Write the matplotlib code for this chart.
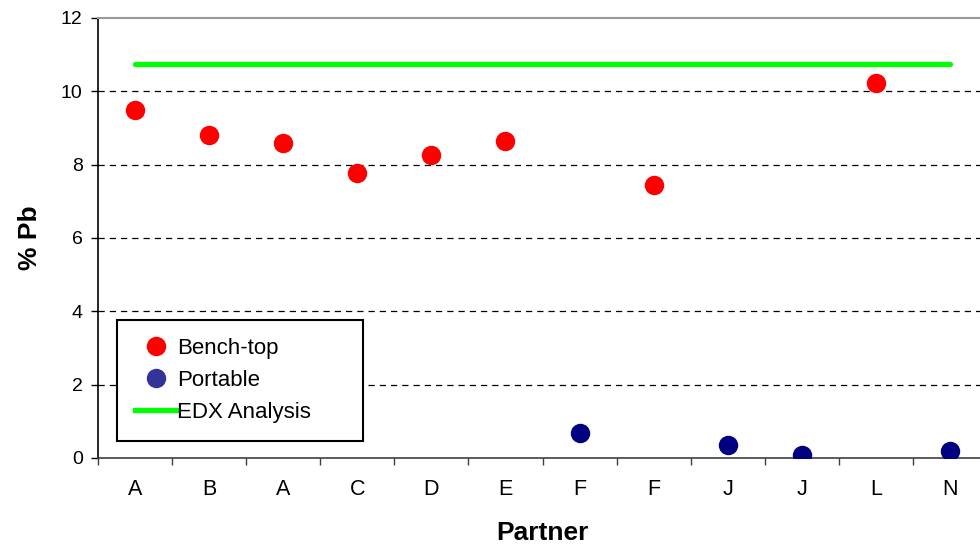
import numpy as np
import matplotlib
matplotlib.use("Agg")
import matplotlib.pyplot as plt
from matplotlib.lines import Line2D

plt.rcParams["font.family"] = ["Liberation Sans", "DejaVu Sans"]

partners = ["A", "B", "A", "C", "D", "E", "F", "F", "J", "J", "L", "N"]
bench_top = [9.48, 8.81, 8.59, 7.77, 8.26, 8.64, np.nan, 7.44, np.nan, np.nan, 10.23, np.nan]
portable = [np.nan, np.nan, np.nan, np.nan, np.nan, np.nan, 0.68, np.nan, 0.36, 0.08, np.nan, 0.19]
edx_value = 10.74

x = np.arange(len(partners))

fig = plt.figure(figsize=(9.8, 5.47), dpi=100)
ax = fig.add_axes([98 / 980, 89 / 547, 889 / 980, 440 / 547])

# gridlines
for yv in [2, 4, 6, 8, 10]:
    ax.axhline(yv, color="black", lw=0.9, ls=(0, (5, 4)), zorder=0)

ax.plot([x[0], x[-1]], [edx_value, edx_value], color="#00ff00", lw=3.8,
        solid_capstyle="round", zorder=2)
ax.plot(x, bench_top, "o", color="#ff0000", ms=14, mec="none", zorder=3)
ax.plot(x, portable, "o", color="#000080", ms=14, mec="none", zorder=3)

ax.set_xlim(-0.5, len(partners) - 0.5)
ax.set_ylim(0, 12)

ax.set_yticks(np.arange(0, 13, 2))
ax.tick_params(axis="y", direction="out", length=5, width=1, labelsize=14, pad=6)

# boundary ticks between categories, labels centred on categories
ax.set_xticks(np.arange(-0.5, len(partners), 1.0))
ax.set_xticklabels([])
ax.set_xticks(x, minor=True)
ax.set_xticklabels(partners, minor=True)
ax.tick_params(axis="x", which="major", direction="out", length=5, width=1, color="#404040")
ax.tick_params(axis="x", which="minor", length=0, labelsize=15.5, pad=15)

ax.spines["left"].set_color("black")
ax.spines["left"].set_linewidth(1.2)
ax.spines["bottom"].set_color("#404040")
ax.spines["bottom"].set_linewidth(1.2)
ax.spines["top"].set_color("#999999")
ax.spines["top"].set_linewidth(1.5)
ax.spines["right"].set_visible(False)

ax.set_xlabel("Partner", fontsize=19, fontweight="bold", labelpad=15)
ax.set_ylabel("% Pb", fontsize=19, fontweight="bold", labelpad=14)

handles = [
    Line2D([], [], ls="none", marker="o", color="#ff0000", ms=14, mec="none"),
    Line2D([], [], ls="none", marker="o", color="#333399", ms=14, mec="none"),
    Line2D([], [], color="#00ff00", lw=3.8),
]
leg = ax.legend(handles, ["Bench-top", "Portable", "EDX Analysis"],
                loc="lower left", bbox_to_anchor=(19 / 889, 17 / 440, 246 / 889, 0.2),
                mode="expand",
                fontsize=16, frameon=True, fancybox=False, framealpha=1,
                borderpad=0.8, handlelength=1.9, handletextpad=0.0,
                labelspacing=0.5, borderaxespad=0)
leg.get_frame().set_edgecolor("black")
leg.get_frame().set_linewidth(1.5)

fig.savefig("out.png", dpi=100)
